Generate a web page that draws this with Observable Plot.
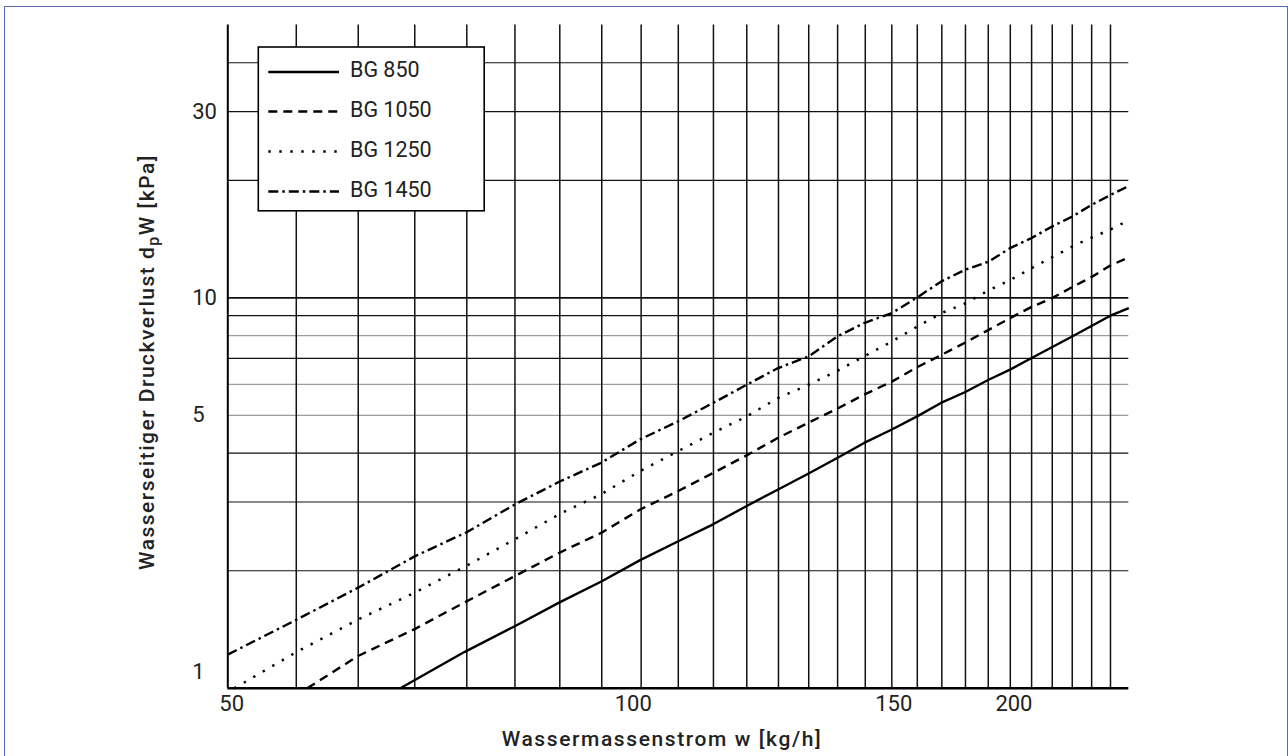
<!DOCTYPE html>
<html><head><meta charset="utf-8">
<script src="https://cdn.jsdelivr.net/npm/d3@7"></script>
<script src="https://cdn.jsdelivr.net/npm/@observablehq/plot@0.6"></script>
<style>
html,body{margin:0;padding:0;background:#fff;}
#chart{position:relative;width:1288px;height:756px;overflow:hidden;background:#fff;}
#chart svg{display:block;}
</style></head><body><div id="chart"></div>
<script>
// ---- data ----
const seriesNames = ["BG 850", "BG 1050", "BG 1250", "BG 1450"];

const bg850X = [65.2, 72.0, 77.7, 83.3, 88.9, 94.3, 100, 105.5, 111.1, 116.6, 122.2, 127.7, 133.1, 138.9, 144.4, 149.8, 155.4, 161.2, 166.6, 172.1, 183.3, 194.4, 200];
const bg850Y = [1.0, 1.24, 1.44, 1.66, 1.88, 2.13, 2.38, 2.63, 2.93, 3.23, 3.55, 3.89, 4.25, 4.6, 4.97, 5.38, 5.73, 6.17, 6.55, 7.0, 7.96, 9.0, 9.41];

const bg1050X = [56.5, 61.1, 66.7, 72.2, 77.8, 83.4, 88.8, 94.3, 100, 105.5, 111.1, 116.6, 122.2, 127.7, 133.1, 138.9, 144.5, 150, 155.6, 161.2, 166.6, 172.1, 177.7, 183.3, 188.8, 194.4, 200];
const bg1050Y = [1.0, 1.21, 1.42, 1.67, 1.94, 2.23, 2.5, 2.87, 3.2, 3.56, 3.95, 4.38, 4.79, 5.2, 5.65, 6.1, 6.65, 7.15, 7.69, 8.28, 8.87, 9.47, 9.98, 10.65, 11.3, 12.1, 12.7];

const bg1250X = [50.5, 55.6, 61.1, 66.7, 72.2, 77.8, 83.4, 88.8, 94.3, 100, 105.5, 111.1, 116.6, 122.2, 127.7, 133.1, 138.9, 144.5, 150, 155.6, 161.2, 166.6, 173.5, 184.5, 190.8, 196.9, 200];
const bg1250Y = [1.0, 1.24, 1.5, 1.76, 2.06, 2.41, 2.8, 3.14, 3.6, 4.05, 4.51, 4.97, 5.54, 5.99, 6.5, 7.08, 7.73, 8.45, 9.14, 9.69, 10.45, 11.1, 12.1, 13.7, 14.5, 15.3, 15.9];

const bg1450X = [50, 55.6, 61.1, 66.7, 72.2, 77.8, 83.4, 88.8, 94.3, 100, 105.5, 111.1, 116.6, 122.2, 127.7, 133.1, 138.9, 144.4, 149.8, 155.4, 161.2, 166.6, 172.1, 177.6, 183.3, 188.8, 194.4, 200];
const bg1450Y = [1.22, 1.5, 1.81, 2.18, 2.51, 2.96, 3.39, 3.78, 4.34, 4.83, 5.38, 5.99, 6.61, 7.08, 7.96, 8.62, 9.14, 10.02, 11.0, 11.79, 12.38, 13.4, 14.21, 15.21, 16.14, 17.29, 18.33, 19.33];

// axes / grid
const xDomain = [50, 200];
const yDomain = [1, 50];
const xGridUnits = d3.range(10, 36);          // grid every 1/9 of 50 kg/h
const xGridValues = xGridUnits.map(u => u * 50 / 9);
const xTickLabels = ["50", "100", "150", "200"];
const xTickAt = [50.3, 93.3, 139.3, 167.6];   // where the labels sit in the reference
const yGridBlack = [2, 3, 4, 7, 9, 10, 20, 30, 40];
const yGridGrey = [5, 6, 8];
const yTickLabels = ["30", "10", "5", "1"];
const yTickValues = [30, 10, 5, 1];

const xTitle = "Wassermassenstrom w [kg/h]";
const yTitleParts = ["Wasserseitiger Druckverlust d", "p", "W [kPa]"];

// ---- styles ----
const styles = [
  {dash: null, width: 2.4, cap: "butt"},
  {dash: "9 6", width: 2.4, cap: "butt"},
  {dash: "2.4 8.6", width: 2.5, cap: "butt"},
  {dash: "10 4 2.5 4", width: 2.4, cap: "butt"}
];

const seriesX = [bg850X, bg1050X, bg1250X, bg1450X];
const seriesY = [bg850Y, bg1050Y, bg1250Y, bg1450Y];
const rows = seriesNames.map((name, s) => seriesX[s].map((x, i) => ({name, x, y: seriesY[s][i]})));

const FONT = "Roboto, 'DejaVu Sans', sans-serif";
const xTicks = xTickAt.map((v, i) => ({v, label: xTickLabels[i]}));
const yTicks = yTickValues.map((v, i) => ({v, label: yTickLabels[i]}));

const chart = Plot.plot({
  width: 1288,
  height: 756,
  marginLeft: 227.3,
  marginRight: 159.7,
  marginTop: 24.4,
  marginBottom: 68.2,
  x: {type: "log", domain: xDomain, axis: null},
  y: {type: "log", domain: yDomain, axis: null},
  style: {fontFamily: FONT, background: "transparent", color: "#222"},
  marks: [
    Plot.ruleY(yGridGrey, {stroke: "#9c9c9c", strokeWidth: 1.3}),
    Plot.ruleY(yGridBlack, {stroke: "#111", strokeWidth: d => d === 10 ? 1.6 : 1.2}),
    Plot.ruleX(xGridValues, {stroke: "#111", strokeWidth: 1.5}),
    ...rows.map((r, s) => Plot.line(r, {
      x: "x", y: "y", stroke: "#000",
      strokeWidth: styles[s].width,
      strokeDasharray: styles[s].dash,
      strokeLinecap: styles[s].cap
    })),
    Plot.ruleX([xDomain[0]], {stroke: "#000", strokeWidth: 2}),
    Plot.ruleY([yDomain[0]], {stroke: "#000", strokeWidth: 2.6}),
    Plot.text(xTicks, {x: "v", text: "label", frameAnchor: "bottom", dy: 15.5, lineAnchor: "middle", fontSize: 22, fill: "#222"}),
    Plot.text(yTicks.filter(d => d.v !== 1), {y: "v", text: "label", frameAnchor: "left", dx: -35.6, textAnchor: "start", lineAnchor: "middle", fontSize: 22, fill: "#222"}),
    Plot.text(yTicks.filter(d => d.v === 1), {y: "v", text: "label", frameAnchor: "left", dx: -35.6, dy: -16, textAnchor: "start", lineAnchor: "middle", fontSize: 22, fill: "#222"})
  ]
});

document.getElementById("chart").appendChild(chart);

const svg = d3.select(chart);

// legend
const lg = svg.append("g").attr("font-family", FONT).attr("text-anchor", "start");
lg.append("rect").attr("x", 258.3).attr("y", 47).attr("width", 225.9).attr("height", 163.8)
  .attr("fill", "#fff").attr("stroke", "#000").attr("stroke-width", 1.6);
const rowY = [72, 111.5, 151.5, 191.5];
seriesNames.forEach((name, s) => {
  lg.append("line").attr("x1", 268.3).attr("x2", 339).attr("y1", rowY[s]).attr("y2", rowY[s])
    .attr("stroke", "#000").attr("stroke-width", styles[s].width)
    .attr("stroke-dasharray", styles[s].dash)
    .attr("stroke-linecap", styles[s].cap);
  lg.append("text").attr("x", 350).attr("y", rowY[s] + 5).attr("font-size", 21.5).attr("fill", "#222")
    .attr("text-anchor", "start")
    .text(name);
});

// axis titles
svg.append("text").attr("x", 662).attr("y", 745.5).attr("text-anchor", "middle")
  .attr("font-family", FONT).attr("font-size", 21).attr("font-weight", 500).attr("fill", "#222")
  .attr("letter-spacing", 1.6)
  .text(xTitle);

const yt = svg.append("text").attr("transform", "translate(154,362) rotate(-90)")
  .attr("text-anchor", "middle").attr("font-family", FONT).attr("font-size", 21)
  .attr("font-weight", 500).attr("fill", "#222").attr("letter-spacing", 1.5);
yt.append("tspan").text(yTitleParts[0]);
yt.append("tspan").attr("dy", 5).attr("font-size", 16).text(yTitleParts[1]);
yt.append("tspan").attr("dy", -5).text(yTitleParts[2]);

// outer frame
svg.append("rect").attr("x", 4.5).attr("y", 6.5).attr("width", 1283).attr("height", 780)
  .attr("fill", "none").attr("stroke", "#5668b0").attr("stroke-width", 1);
</script>
</body></html>
